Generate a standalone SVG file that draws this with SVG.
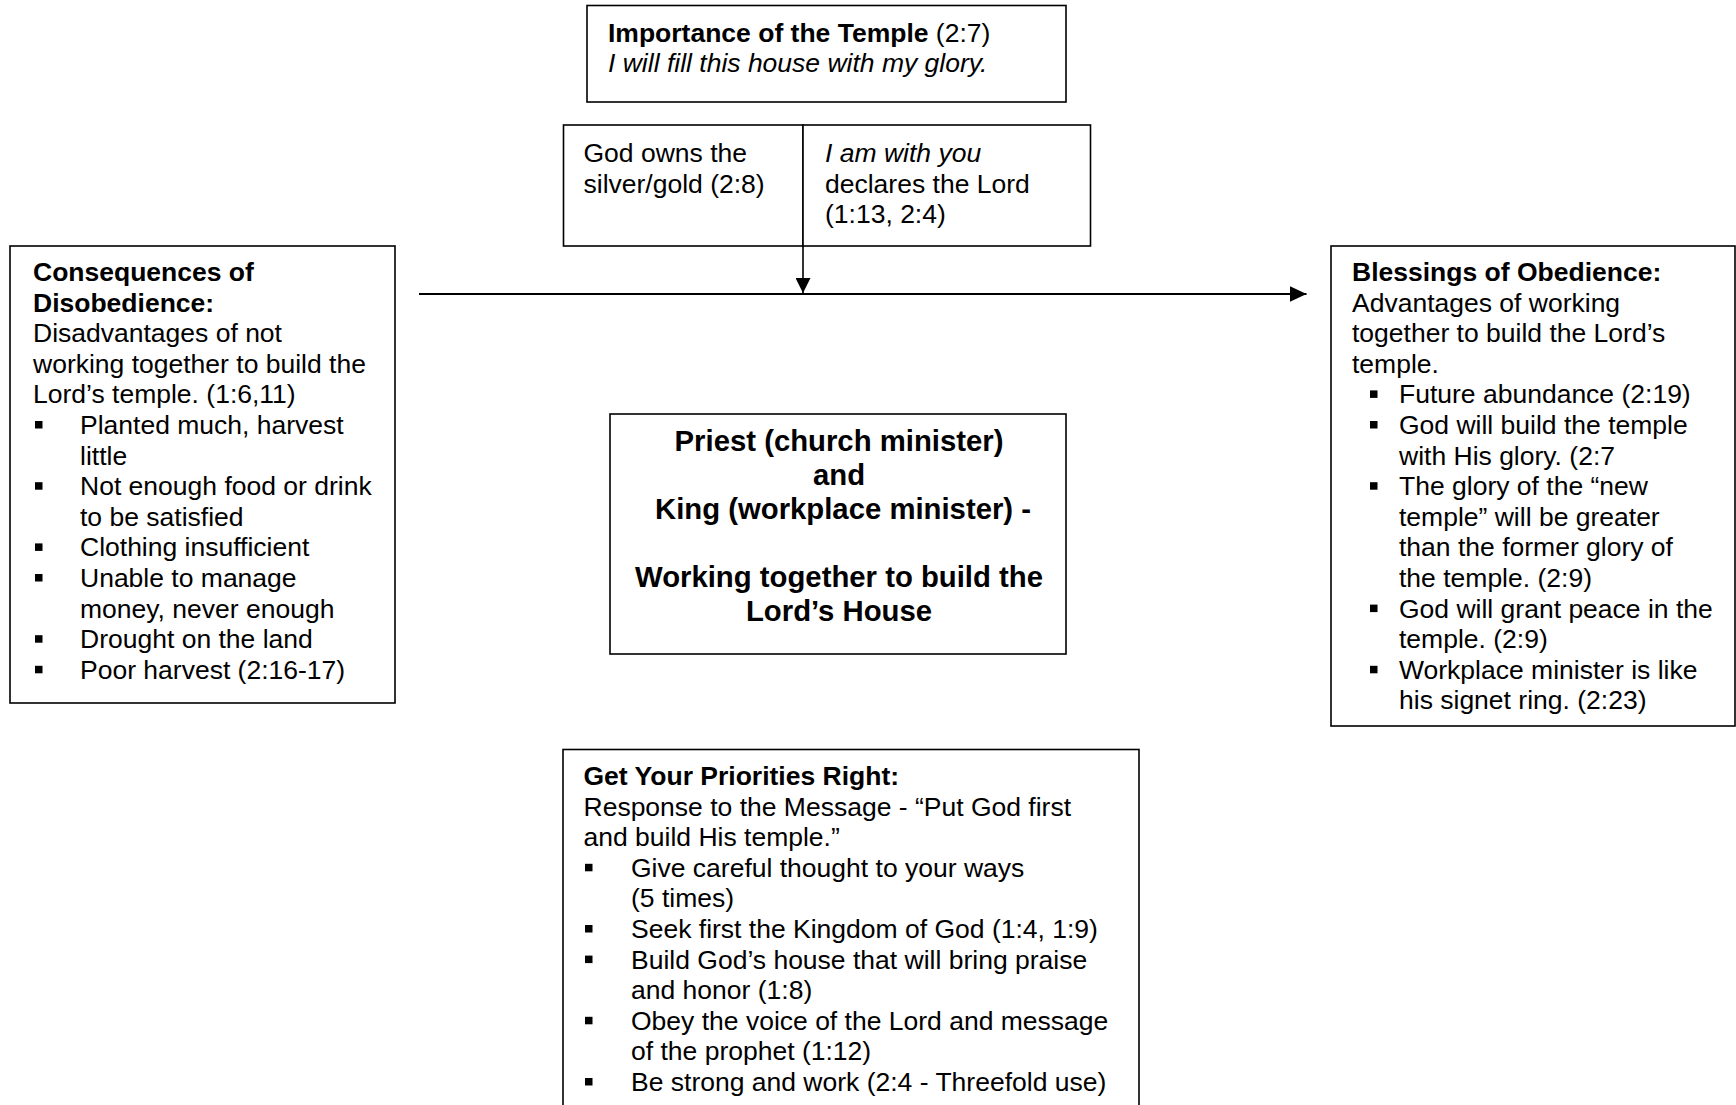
<svg xmlns="http://www.w3.org/2000/svg" width="1736" height="1105" viewBox="0 0 1736 1105">
<style>
  .box { fill: #ffffff; stroke: #000000; stroke-width: 1.6; }
  .t { font-family: "Liberation Sans", Arial, sans-serif; font-size: 26.5px; fill: #000000; }
  .c { font-family: "Liberation Sans", Arial, sans-serif; font-size: 29.3px; font-weight: bold; fill: #000000; text-anchor: middle; }
  .b { font-weight: bold; }
  .i { font-style: italic; }
  .conn { stroke: #000000; fill: none; }
</style>
<defs>
  <rect id="bullet" x="0" y="-13" width="7.5" height="7.5" fill="#000000"/>
  <marker id="arrow-h" viewBox="0 0 17 16" refX="17" refY="8" markerWidth="17" markerHeight="16" markerUnits="userSpaceOnUse" orient="auto">
    <path d="M0,0 L17,8 L0,16 Z" fill="#000000"/>
  </marker>
  <marker id="arrow-v" viewBox="0 0 15 15" refX="15" refY="7.5" markerWidth="15" markerHeight="15" markerUnits="userSpaceOnUse" orient="auto">
    <path d="M0,0 L15,7.5 L0,15 Z" fill="#000000"/>
  </marker>
</defs>
<rect width="1736" height="1105" fill="#ffffff"/>

<g id="importance">
  <rect class="box" x="587" y="5.5" width="479" height="96.5"/>
  <text class="t" x="608" y="42"><tspan class="b">Importance of the Temple</tspan> (2:7)</text>
  <text class="t i" x="608" y="72">I will fill this house with my glory.</text>
</g>

<g id="god-owns">
  <rect class="box" x="563.5" y="125" width="239.5" height="121"/>
  <text class="t" x="583.5" y="162">God owns the</text>
  <text class="t" x="583.5" y="192.5">silver/gold (2:8)</text>
</g>

<g id="i-am-with-you">
  <rect class="box" x="803" y="125" width="287.5" height="121"/>
  <text class="t i" x="825" y="162">I am with you</text>
  <text class="t" x="825" y="192.5">declares the Lord</text>
  <text class="t" x="825" y="223">(1:13, 2:4)</text>
</g>

<g id="consequences">
  <rect class="box" x="10" y="246" width="385" height="457"/>
  <text class="t b" x="33" y="281">Consequences of</text>
  <text class="t b" x="33" y="311.6">Disobedience:</text>
  <text class="t" x="33" y="342.2">Disadvantages of not</text>
  <text class="t" x="33" y="372.8">working together to build the</text>
  <text class="t" x="33" y="403.4">Lord’s temple. (1:6,11)</text>
  <use href="#bullet" x="35" y="434"/>
  <text class="t" x="80" y="434">Planted much, harvest</text>
  <text class="t" x="80" y="464.6">little</text>
  <use href="#bullet" x="35" y="495.2"/>
  <text class="t" x="80" y="495.2">Not enough food or drink</text>
  <text class="t" x="80" y="525.8">to be satisfied</text>
  <use href="#bullet" x="35" y="556.4"/>
  <text class="t" x="80" y="556.4">Clothing insufficient</text>
  <use href="#bullet" x="35" y="587"/>
  <text class="t" x="80" y="587">Unable to manage</text>
  <text class="t" x="80" y="617.6">money, never enough</text>
  <use href="#bullet" x="35" y="648.2"/>
  <text class="t" x="80" y="648.2">Drought on the land</text>
  <use href="#bullet" x="35" y="678.8"/>
  <text class="t" x="80" y="678.8">Poor harvest (2:16-17)</text>
</g>

<g id="blessings">
  <rect class="box" x="1331" y="246" width="404" height="480"/>
  <text class="t b" x="1352" y="281">Blessings of Obedience:</text>
  <text class="t" x="1352" y="311.6">Advantages of working</text>
  <text class="t" x="1352" y="342.2">together to build the Lord’s</text>
  <text class="t" x="1352" y="372.8">temple.</text>
  <use href="#bullet" x="1370" y="403.4"/>
  <text class="t" x="1399" y="403.4">Future abundance (2:19)</text>
  <use href="#bullet" x="1370" y="434"/>
  <text class="t" x="1399" y="434">God will build the temple</text>
  <text class="t" x="1399" y="464.6">with His glory. (2:7</text>
  <use href="#bullet" x="1370" y="495.2"/>
  <text class="t" x="1399" y="495.2">The glory of the “new</text>
  <text class="t" x="1399" y="525.8">temple” will be greater</text>
  <text class="t" x="1399" y="556.4">than the former glory of</text>
  <text class="t" x="1399" y="587">the temple. (2:9)</text>
  <use href="#bullet" x="1370" y="617.6"/>
  <text class="t" x="1399" y="617.6">God will grant peace in the</text>
  <text class="t" x="1399" y="648.2">temple. (2:9)</text>
  <use href="#bullet" x="1370" y="678.8"/>
  <text class="t" x="1399" y="678.8">Workplace minister is like</text>
  <text class="t" x="1399" y="709.4">his signet ring. (2:23)</text>
</g>

<g id="priest-king">
  <rect class="box" x="610" y="414" width="456" height="240"/>
  <text class="c" x="839" y="451">Priest (church minister)</text>
  <text class="c" x="839" y="485">and</text>
  <text class="c" x="843" y="519">King (workplace minister) -</text>
  <text class="c" x="839" y="587">Working together to build the</text>
  <text class="c" x="839" y="621">Lord’s House</text>
</g>

<g id="priorities">
  <rect class="box" x="563" y="749.5" width="576" height="370"/>
  <text class="t b" x="583.5" y="785">Get Your Priorities Right:</text>
  <text class="t" x="583.5" y="815.6">Response to the Message - “Put God first</text>
  <text class="t" x="583.5" y="846.2">and build His temple.”</text>
  <use href="#bullet" x="585" y="876.8"/>
  <text class="t" x="631" y="876.8">Give careful thought to your ways</text>
  <text class="t" x="631" y="907.4">(5 times)</text>
  <use href="#bullet" x="585" y="938"/>
  <text class="t" x="631" y="938">Seek first the Kingdom of God (1:4, 1:9)</text>
  <use href="#bullet" x="585" y="968.6"/>
  <text class="t" x="631" y="968.6">Build God’s house that will bring praise</text>
  <text class="t" x="631" y="999.2">and honor (1:8)</text>
  <use href="#bullet" x="585" y="1029.8"/>
  <text class="t" x="631" y="1029.8">Obey the voice of the Lord and message</text>
  <text class="t" x="631" y="1060.4">of the prophet (1:12)</text>
  <use href="#bullet" x="585" y="1091"/>
  <text class="t" x="631" y="1091">Be strong and work (2:4 - Threefold use)</text>
</g>

<g id="connectors">
  <line class="conn" x1="419" y1="294" x2="1306.5" y2="294" stroke-width="2" marker-end="url(#arrow-h)"/>
  <line class="conn" x1="803" y1="246" x2="803" y2="293" stroke-width="1.6" marker-end="url(#arrow-v)"/>
</g>
</svg>
